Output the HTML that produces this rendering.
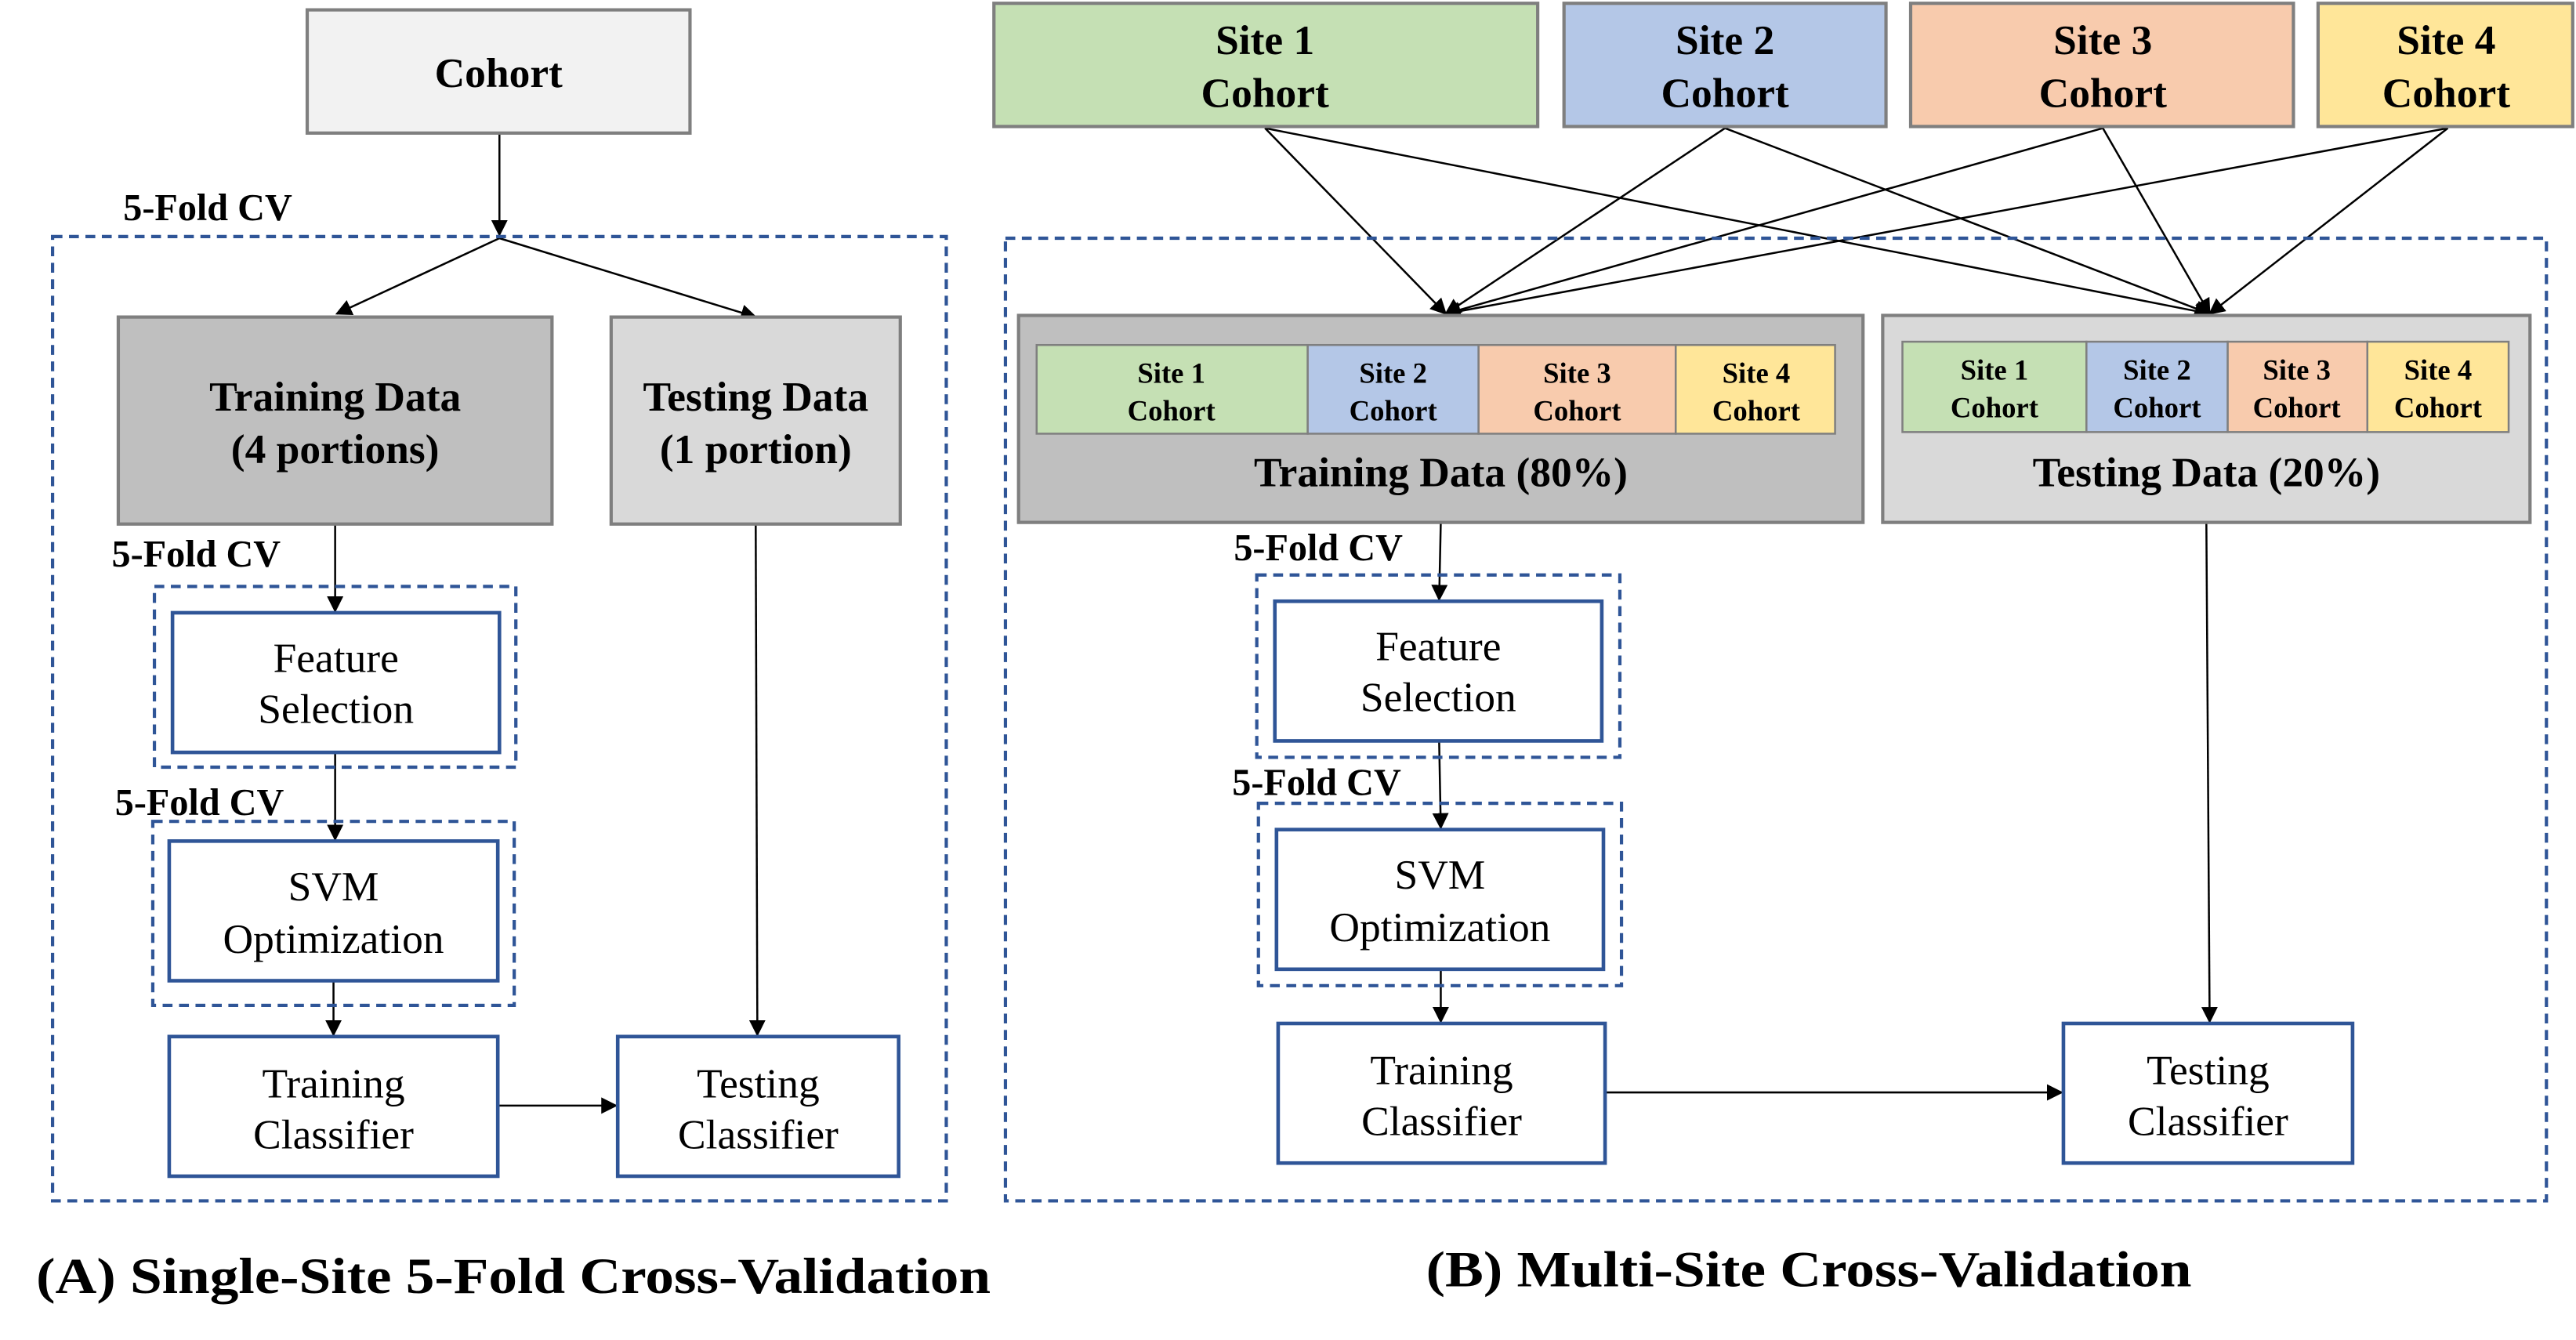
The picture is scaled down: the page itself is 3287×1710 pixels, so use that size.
<!DOCTYPE html>
<html><head><meta charset="utf-8"><style>
html,body{margin:0;padding:0;background:#fff;}
svg{display:block;}
text{font-family:"Liberation Serif",serif;fill:#000;}
.b{font-weight:bold;}
</style></head><body>
<svg width="3287" height="1710" viewBox="0 0 1568 815.7" xmlns="http://www.w3.org/2000/svg">
<defs>
<marker id="ar" markerWidth="10" markerHeight="10" refX="9" refY="5" orient="auto" markerUnits="userSpaceOnUse">
<path d="M0,0 L10,5 L0,10 z" fill="#000"/>
</marker>
</defs>
<g stroke="#000" stroke-width="1.2" fill="none" marker-end="url(#ar)">
<line x1="304" y1="81" x2="304" y2="143"/>
<line x1="304" y1="145" x2="205" y2="191"/>
<line x1="304" y1="145" x2="460" y2="193"/>
<line x1="204" y1="319" x2="204" y2="372"/>
<line x1="204" y1="458" x2="204" y2="511"/>
<line x1="203" y1="597" x2="203" y2="630"/>
<line x1="304" y1="673" x2="375" y2="673"/>
<line x1="460" y1="319" x2="461" y2="630"/>
<line x1="770" y1="78" x2="880" y2="191"/>
<line x1="1050" y1="78" x2="880" y2="191"/>
<line x1="1280" y1="78" x2="880" y2="191"/>
<line x1="1490" y1="78" x2="880" y2="191"/>
<line x1="770" y1="78" x2="1345" y2="191"/>
<line x1="1050" y1="78" x2="1345" y2="191"/>
<line x1="1280" y1="78" x2="1345" y2="191"/>
<line x1="1490" y1="78" x2="1345" y2="191"/>
<line x1="877" y1="318" x2="876" y2="365"/>
<line x1="876" y1="451" x2="877" y2="504"/>
<line x1="877" y1="590" x2="877" y2="622"/>
<line x1="977" y1="665" x2="1255" y2="665"/>
<line x1="1343" y1="318" x2="1345" y2="622"/>
</g>
<g fill="none" stroke="#2f5597" stroke-width="2" stroke-dasharray="6,4">
<rect x="32" y="144" width="544" height="587"/>
<rect x="94" y="357" width="220" height="110"/>
<rect x="93" y="500" width="220" height="112"/>
<rect x="612" y="145" width="938" height="586"/>
<rect x="765" y="350" width="221" height="111"/>
<rect x="766" y="489" width="221" height="111"/>
</g>
<rect x="187" y="6" width="233" height="75" fill="#f2f2f2" stroke="#7f7f7f" stroke-width="2"/>
<text x="303.5" y="53" class="b" font-size="25.5" text-anchor="middle">Cohort</text>
<text x="75" y="134" class="b" font-size="23">5-Fold CV</text>
<rect x="72" y="193" width="264" height="126" fill="#bfbfbf" stroke="#7f7f7f" stroke-width="2"/>
<text x="204" y="250" class="b" font-size="25.5" text-anchor="middle">Training Data</text>
<text x="204" y="282" class="b" font-size="25.5" text-anchor="middle">(4 portions)</text>
<rect x="372" y="193" width="176" height="126" fill="#d9d9d9" stroke="#7f7f7f" stroke-width="2"/>
<text x="460" y="250" class="b" font-size="25.5" text-anchor="middle">Testing Data</text>
<text x="460" y="282" class="b" font-size="25.5" text-anchor="middle">(1 portion)</text>
<text x="68" y="345" class="b" font-size="23">5-Fold CV</text>
<g fill="#fff" stroke="#2f5597" stroke-width="2.2">
<rect x="105" y="373" width="199" height="85"/>
<rect x="103" y="512" width="200" height="85"/>
<rect x="103" y="631" width="200" height="85"/>
<rect x="376" y="631" width="171" height="85"/>
<rect x="776" y="366" width="199" height="85"/>
<rect x="777" y="505" width="199" height="85"/>
<rect x="778" y="623" width="199" height="85"/>
<rect x="1256" y="623" width="176" height="85"/>
</g>
<g font-size="25.5" text-anchor="middle">
<text x="204.5" y="409">Feature</text><text x="204.5" y="440">Selection</text>
<text x="203" y="548">SVM</text><text x="203" y="580">Optimization</text>
<text x="203" y="668">Training</text><text x="203" y="699">Classifier</text>
<text x="461.5" y="668">Testing</text><text x="461.5" y="699">Classifier</text>
<text x="875.5" y="402">Feature</text><text x="875.5" y="433">Selection</text>
<text x="876.5" y="541">SVM</text><text x="876.5" y="573">Optimization</text>
<text x="877.5" y="660">Training</text><text x="877.5" y="691">Classifier</text>
<text x="1344" y="660">Testing</text><text x="1344" y="691">Classifier</text>
</g>
<text x="70" y="496" class="b" font-size="23">5-Fold CV</text>
<text x="22" y="787" class="b" font-size="31" textLength="581" lengthAdjust="spacingAndGlyphs">(A) Single-Site 5-Fold Cross-Validation</text>
<g stroke="#7f7f7f" stroke-width="2">
<rect x="605" y="2" width="331" height="75" fill="#c5e0b4"/>
<rect x="952" y="2" width="196" height="75" fill="#b4c7e7"/>
<rect x="1163" y="2" width="233" height="75" fill="#f8cbad"/>
<rect x="1411" y="2" width="155" height="75" fill="#ffe699"/>
</g>
<g font-size="25.5" text-anchor="middle" font-weight="bold">
<text x="770" y="33">Site 1</text><text x="770" y="65">Cohort</text>
<text x="1050" y="33">Site 2</text><text x="1050" y="65">Cohort</text>
<text x="1280" y="33">Site 3</text><text x="1280" y="65">Cohort</text>
<text x="1489" y="33">Site 4</text><text x="1489" y="65">Cohort</text>
</g>
<rect x="620" y="192" width="514" height="126" fill="#bfbfbf" stroke="#7f7f7f" stroke-width="2"/>
<g stroke="#7f7f7f" stroke-width="1.2">
<rect x="631" y="210" width="165" height="54" fill="#c5e0b4"/>
<rect x="796" y="210" width="104" height="54" fill="#b4c7e7"/>
<rect x="900" y="210" width="120" height="54" fill="#f8cbad"/>
<rect x="1020" y="210" width="97" height="54" fill="#ffe699"/>
</g>
<g font-size="17.5" font-weight="bold" text-anchor="middle">
<text x="713" y="233">Site 1</text><text x="713" y="256">Cohort</text>
<text x="848" y="233">Site 2</text><text x="848" y="256">Cohort</text>
<text x="960" y="233">Site 3</text><text x="960" y="256">Cohort</text>
<text x="1069" y="233">Site 4</text><text x="1069" y="256">Cohort</text>
</g>
<text x="877" y="296" font-size="25.5" font-weight="bold" text-anchor="middle">Training Data (80%)</text>
<rect x="1146" y="192" width="394" height="126" fill="#d9d9d9" stroke="#7f7f7f" stroke-width="2"/>
<g stroke="#7f7f7f" stroke-width="1.2">
<rect x="1158" y="208" width="112" height="55" fill="#c5e0b4"/>
<rect x="1270" y="208" width="86" height="55" fill="#b4c7e7"/>
<rect x="1356" y="208" width="85" height="55" fill="#f8cbad"/>
<rect x="1441" y="208" width="86" height="55" fill="#ffe699"/>
</g>
<g font-size="17.5" font-weight="bold" text-anchor="middle">
<text x="1214" y="231">Site 1</text><text x="1214" y="254">Cohort</text>
<text x="1313" y="231">Site 2</text><text x="1313" y="254">Cohort</text>
<text x="1398" y="231">Site 3</text><text x="1398" y="254">Cohort</text>
<text x="1484" y="231">Site 4</text><text x="1484" y="254">Cohort</text>
</g>
<text x="1343" y="296" font-size="25.5" font-weight="bold" text-anchor="middle">Testing Data (20%)</text>
<text x="751" y="341" font-size="23" font-weight="bold">5-Fold CV</text>
<text x="750" y="484" font-size="23" font-weight="bold">5-Fold CV</text>
<text x="868" y="783" font-size="31" font-weight="bold" textLength="466" lengthAdjust="spacingAndGlyphs">(B) Multi-Site Cross-Validation</text>
</svg>
</body></html>
